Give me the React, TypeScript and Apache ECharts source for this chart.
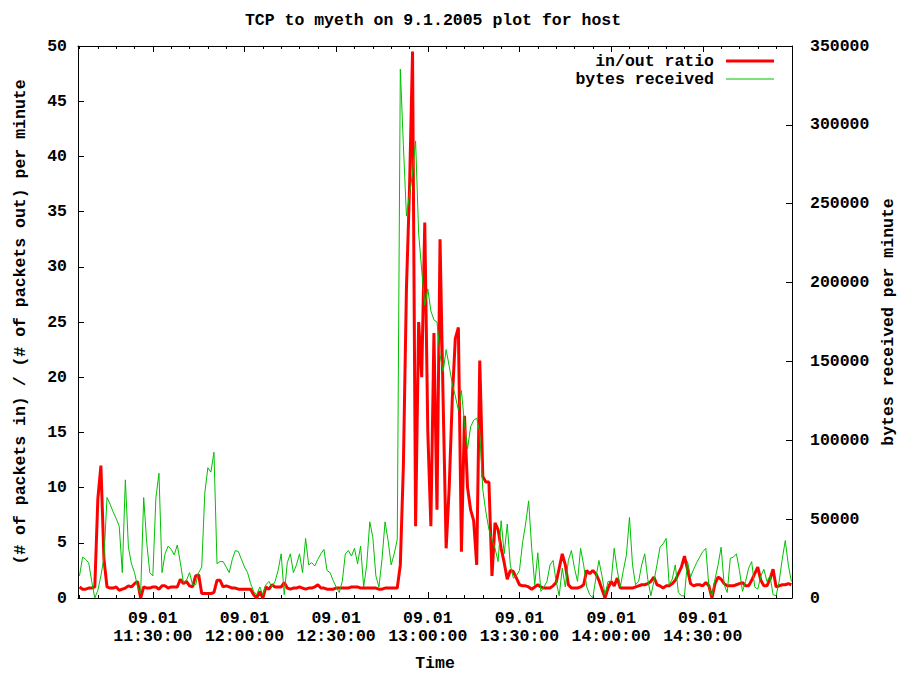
import React, { useEffect, useRef } from "react";
import * as echarts from "echarts";

// Minutes after 11:00 on 09.01 (one sample per minute, 11:06 .. 14:59)
const firstMinute = 6;
const lastMinute = 239;

// (# of packets in) / (# of packets out) per minute
const ratio = [
  1.0, 0.8, 0.8, 0.9, 0.9, 1.0, 9.0, 12.0, 3.5, 1.0,
  0.9, 0.9, 1.0, 0.7, 0.8, 0.9, 1.1, 1.0, 1.3, 1.5,
  0.0, 1.0, 0.9, 0.9, 1.0, 1.0, 0.8, 1.1, 1.1, 0.9,
  1.0, 1.0, 1.0, 1.7, 1.3, 1.5, 1.1, 1.0, 2.0, 2.1,
  0.4, 0.4, 0.4, 0.4, 0.5, 1.6, 1.6, 1.0, 1.1, 1.0,
  0.9, 0.9, 0.8, 0.8, 0.8, 0.8, 0.8, 0.3, 0.0, 0.6,
  0.0, 1.0, 0.8, 1.2, 1.0, 1.0, 1.0, 1.4, 0.9, 0.8,
  0.9, 0.9, 1.0, 0.9, 0.8, 0.9, 0.9, 1.0, 1.2, 0.9,
  0.9, 0.8, 0.8, 0.8, 0.9, 0.9, 0.9, 0.9, 0.9, 1.0,
  1.0, 1.0, 0.9, 0.9, 0.9, 0.9, 0.9, 0.9, 0.8, 0.8,
  0.9, 0.9, 0.9, 0.9, 0.9, 3.0, 12.0, 28.0, 37.0, 49.5,
  6.5, 25.0, 20.0, 34.0, 15.0, 6.5, 24.0, 8.0, 32.5, 18.0,
  4.5, 10.0, 18.0, 23.5, 24.5, 4.2, 16.5, 10.0, 8.0, 7.0,
  3.0, 21.5, 11.0, 10.5, 10.5, 2.0, 6.8, 6.2, 4.5, 3.2,
  1.7, 2.5, 2.4, 1.8, 1.2, 1.1, 1.1, 1.0, 0.8, 1.0,
  1.2, 1.0, 0.9, 0.9, 0.9, 1.1, 1.4, 2.7, 4.0, 3.0,
  1.2, 0.9, 0.9, 0.9, 1.0, 1.2, 2.5, 2.2, 2.5, 2.2,
  1.6, 0.8, 0.0, 0.9, 1.5, 1.1, 1.8, 0.9, 0.9, 0.9,
  0.9, 0.9, 1.0, 1.1, 1.2, 1.2, 1.3, 1.5, 1.9, 1.2,
  1.1, 0.9, 1.1, 1.1, 1.3, 1.6, 2.2, 2.8, 3.8, 2.6,
  1.3, 1.1, 1.2, 1.2, 1.1, 1.4, 1.1, 0.0, 1.3, 1.9,
  1.7, 1.3, 1.1, 1.1, 1.1, 1.2, 1.3, 1.4, 1.1, 1.1,
  1.6, 2.2, 2.8, 1.6, 1.1, 1.1, 1.7, 2.6, 1.0, 1.1,
  1.2, 1.2, 1.3, 1.2,
];

// bytes received per minute
const bytesReceived = [
  14000, 25900, 24500, 22400, 10500, 0, 4900, 14000, 25900, 63700,
  59500, 54600, 50400, 45500, 16100, 74900, 32200, 21700, 16100, 7000,
  2800, 63700, 35000, 16100, 14000, 63700, 79100, 16100, 28000, 32900,
  30800, 27300, 33600, 22400, 9800, 11200, 16100, 8400, 8400, 16100,
  19600, 66500, 82600, 79800, 92400, 21700, 23100, 23100, 19600, 16100,
  24500, 30100, 29400, 24500, 19600, 16100, 9100, 4200, 2100, 7000,
  2100, 8400, 10500, 7000, 10500, 17500, 28000, 2100, 22400, 28000,
  16100, 21000, 28000, 16100, 37800, 21000, 22400, 20300, 24500, 28000,
  30800, 17500, 16100, 11200, 7000, 3500, 10500, 28000, 30100, 26600,
  31500, 21700, 32900, 7000, 21000, 48300, 38500, 14000, 7000, 24500,
  48300, 36400, 21000, 28000, 37100, 335300, 287000, 242200, 255500, 269500,
  289800, 231000, 207900, 185500, 196000, 182000, 176400, 175000, 154000, 143500,
  157500, 147000, 135800, 128100, 119000, 131600, 110600, 94500, 108500, 112700,
  114100, 105000, 68600, 54600, 43400, 37100, 31500, 23100, 49000, 28000,
  46900, 21000, 12600, 14000, 17500, 35000, 46900, 61600, 31500, 8400,
  28700, 4200, 7000, 10500, 21000, 23800, 10500, 1400, 18900, 7000,
  23800, 30100, 18900, 10500, 31500, 21000, 7000, 2100, 0, 12600,
  23800, 14000, 2100, 10500, 10500, 31500, 17500, 7000, 17500, 27300,
  51100, 21000, 8400, 10500, 21000, 28000, 11900, 1400, 10500, 21000,
  32200, 34300, 37800, 8400, 11900, 21000, 3500, 1400, 1400, 23100,
  13300, 18200, 22400, 25900, 29400, 31500, 7000, 1400, 11900, 21000,
  32200, 8400, 3500, 25200, 25900, 28000, 17500, 4200, 10500, 18900,
  23100, 7000, 5600, 14000, 18200, 10500, 14000, 2100, 1400, 10500,
  24500, 36400, 21000, 10500,
];

// x-axis tick positions (minutes after 11:00)
const majorTicks = [30, 60, 90, 120, 150, 180, 210];
const minorTicks = [
  6, 12, 18, 24, 36, 42, 48, 54, 66, 72, 78, 84, 96, 102, 108, 114,
  126, 132, 138, 144, 156, 162, 168, 174, 186, 192, 198, 204, 216, 222, 228, 234,
];
const dateLabel = "09.01";

const titleText = "TCP to myeth on 9.1.2005 plot for host";
const leftName = "(# of packets in) / (# of packets out) per minute";
const rightName = "bytes received per minute";
const xName = "Time";
const ratioName = "in/out ratio";
const bytesName = "bytes received";

const FONT = "Liberation Mono";
const FS = 16.5;
const RED = "#ff0000";
const GREEN = "#00c000";

const pad = (n: number) => (n < 10 ? "0" + n : "" + n);
const timeLabel = (m: number) => {
  const h = 11 + Math.floor(m / 60);
  const mm = Math.round(m % 60);
  return dateLabel + "\n" + pad(h) + ":" + pad(mm) + ":00";
};

export default function App() {
  const ref = useRef<HTMLDivElement>(null);
  useEffect(() => {
    if (!ref.current) return;
    const chart = echarts.init(ref.current, null, { renderer: "svg" });
    const minutes: number[] = [];
    for (let m = firstMinute; m <= lastMinute; m++) minutes.push(m);
    const ratioData = minutes.map((m, i) => [m, ratio[i]]);
    const bytesData = minutes.map((m, i) => [m, bytesReceived[i]]);

    const txt = { fontFamily: FONT, fontWeight: "bold" as const, fontSize: FS, color: "#000" };
    const xMin = 5.5;
    const xMax = 239.2;
    const baseX = {
      type: "value" as const,
      min: xMin,
      max: xMax,
      splitLine: { show: false },
    };

    chart.setOption({
      animation: false,
      backgroundColor: "#fff",
      title: {
        text: titleText,
        left: 428,
        top: 7,
        textAlign: "center",
        textStyle: { ...txt },
      },
      grid: {
        left: 78,
        right: 109,
        top: 46,
        bottom: 77,
        containLabel: false,
        outerBoundsMode: "none",
      },
      xAxis: [
        {
          ...baseX,
          position: "bottom",
          axisLine: { show: true, lineStyle: { color: "#000", width: 1 } },
          axisTick: { show: true, inside: true, length: 6, customValues: majorTicks, lineStyle: { color: "#000" } },
          axisLabel: {
            show: true,
            customValues: majorTicks,
            formatter: (v: number) => timeLabel(v),
            margin: 11,
            lineHeight: 18,
            ...txt,
          },
          name: xName,
          nameLocation: "middle",
          nameGap: 57,
          nameTextStyle: { ...txt },
        },
        {
          ...baseX,
          position: "bottom",
          axisLine: { show: false },
          axisTick: { show: true, inside: true, length: 3, customValues: minorTicks, lineStyle: { color: "#000" } },
          axisLabel: { show: false },
        },
        {
          ...baseX,
          position: "top",
          axisLine: { show: true, lineStyle: { color: "#000", width: 1 } },
          axisTick: { show: true, inside: true, length: 6, customValues: majorTicks, lineStyle: { color: "#000" } },
          axisLabel: { show: false },
        },
        {
          ...baseX,
          position: "top",
          axisLine: { show: false },
          axisTick: { show: true, inside: true, length: 3, customValues: minorTicks, lineStyle: { color: "#000" } },
          axisLabel: { show: false },
        },
      ],
      yAxis: [
        {
          type: "value",
          position: "left",
          min: 0,
          max: 50,
          interval: 5,
          splitLine: { show: false },
          axisLine: { show: true, lineStyle: { color: "#000", width: 1 } },
          axisTick: { show: true, inside: true, length: 6, lineStyle: { color: "#000" } },
          axisLabel: { ...txt, margin: 11 },
          name: leftName,
          nameLocation: "middle",
          nameRotate: 90,
          nameGap: 49,
          nameTextStyle: { ...txt },
        },
        {
          type: "value",
          position: "right",
          min: 0,
          max: 350000,
          interval: 50000,
          splitLine: { show: false },
          axisLine: { show: true, lineStyle: { color: "#000", width: 1 } },
          axisTick: { show: true, inside: true, length: 6, lineStyle: { color: "#000" } },
          axisLabel: { ...txt, margin: 18, formatter: (v: number) => String(v) },
          name: rightName,
          nameLocation: "middle",
          nameRotate: 90,
          nameGap: 86,
          nameTextStyle: { ...txt },
        },
      ],
      series: [
        {
          name: ratioName,
          type: "line",
          xAxisIndex: 0,
          yAxisIndex: 0,
          data: ratioData,
          showSymbol: false,
          symbol: "none",
          lineStyle: { color: RED, width: 3 },
          itemStyle: { color: RED },
          z: 2,
        },
        {
          name: bytesName,
          type: "line",
          xAxisIndex: 0,
          yAxisIndex: 1,
          data: bytesData,
          showSymbol: false,
          symbol: "none",
          lineStyle: { color: GREEN, width: 1 },
          itemStyle: { color: GREEN },
          z: 3,
        },
      ],
      graphic: [
        {
          type: "text",
          x: 714,
          y: 61,
          style: { text: ratioName, align: "right", verticalAlign: "middle", font: `bold ${FS}px "${FONT}"`, fill: "#000" },
        },
        {
          type: "line",
          shape: { x1: 726, y1: 61, x2: 774, y2: 61 },
          style: { stroke: RED, lineWidth: 3 },
        },
        {
          type: "text",
          x: 714,
          y: 79,
          style: { text: bytesName, align: "right", verticalAlign: "middle", font: `bold ${FS}px "${FONT}"`, fill: "#000" },
        },
        {
          type: "line",
          shape: { x1: 726, y1: 79, x2: 774, y2: 79 },
          style: { stroke: GREEN, lineWidth: 1 },
        },
      ],
    });
    return () => chart.dispose();
  }, []);
  return (
    <div
      ref={ref}
      style={{ position: "fixed", left: 0, top: 0, width: 901, height: 675, background: "#fff" }}
    />
  );
}
